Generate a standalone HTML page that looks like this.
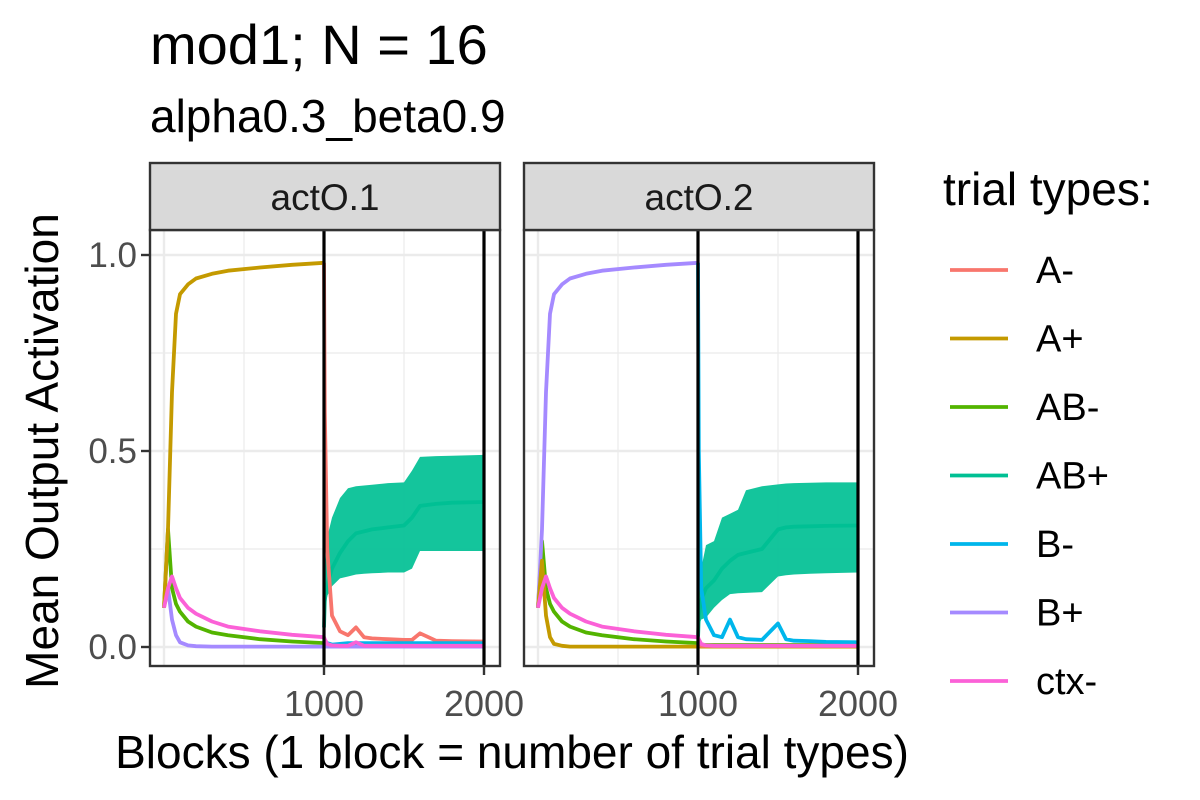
<!DOCTYPE html>
<html><head><meta charset="utf-8"><style>
html,body{margin:0;padding:0;background:#fff;}
svg{display:block;font-family:"Liberation Sans",Arial,sans-serif;}
</style></head><body>
<svg id="chart" width="1200" height="800" viewBox="0 0 1200 800">
<text x="150" y="64" font-size="56" fill="#000">mod1; N = 16</text>
<text x="150" y="132" font-size="46" fill="#000">alpha0.3_beta0.9</text>
<text transform="translate(58,451) rotate(-90)" text-anchor="middle" font-size="46" fill="#000">Mean Output Activation</text>
<text x="512" y="768" text-anchor="middle" font-size="46" fill="#000">Blocks (1 block = number of trial types)</text>
<text x="943" y="205" font-size="46" fill="#000">trial types:</text>
<g id="panels"></g>
<g id="legend"></g>
</svg>
<script>
const NS="http://www.w3.org/2000/svg";
const blocks=[0,25,50,75,100,150,200,300,400,600,800,1000,1005,1020,1050,1100,1150,1200,1250,1300,1400,1500,1550,1600,1700,1800,2000];
const seriesNames=["A-","A+","AB-","AB+","B-","B+","ctx-"];
const seriesColors=["#F8766D","#C49A00","#53B400","#00C094","#00B6EB","#A58AFF","#FB61D7"];
const panelNames=["actO.1","actO.2"];
const yTicks=[0,0.5,1.0];
const yTickLabels=["0.0","0.5","1.0"];
const xTicks=[1000,2000];
const xTickLabels=["1000","2000"];
const phaseLines=[1000,2000];
const N=null;
// panel actO.1
const p1_Aminus=[N,N,N,N,N,N,N,N,N,N,N,0.98,0.6,0.25,0.08,0.04,0.03,0.05,0.025,0.022,0.02,0.018,0.018,0.035,0.016,0.015,0.014];
const p1_Aplus=[0.1,0.3,0.65,0.85,0.9,0.925,0.94,0.952,0.96,0.968,0.975,0.98,N,N,N,N,N,N,N,N,N,N,N,N,N,N,N];
const p1_ABminus=[0.1,0.3,0.15,0.11,0.09,0.065,0.052,0.037,0.03,0.02,0.014,0.01,0.008,0.006,0.005,0.005,0.005,0.005,0.005,0.005,0.005,0.005,0.005,0.005,0.005,0.005,0.005];
const p1_ABplus=[N,N,N,N,N,N,N,N,N,N,N,0.05,0.12,0.16,0.2,0.24,0.27,0.29,0.295,0.3,0.305,0.31,0.33,0.36,0.365,0.368,0.37];
const p1_ABplusLo=[N,N,N,N,N,N,N,N,N,N,N,0.04,0.08,0.13,0.155,0.175,0.18,0.185,0.187,0.188,0.19,0.19,0.2,0.245,0.245,0.245,0.245];
const p1_ABplusHi=[N,N,N,N,N,N,N,N,N,N,N,0.1,0.2,0.28,0.33,0.38,0.405,0.41,0.412,0.414,0.418,0.42,0.45,0.485,0.487,0.488,0.49];
const p1_Bminus=[N,N,N,N,N,N,N,N,N,N,N,0.01,0.015,0.01,0.006,0.008,0.01,0.01,0.01,0.01,0.01,0.01,0.01,0.01,0.01,0.01,0.01];
const p1_Bplus=[0.1,0.15,0.07,0.03,0.012,0.004,0.002,0.001,0.001,0.001,0.001,0.001,0.001,0.001,0.001,0.001,0.001,0.001,0.001,0.001,0.001,0.001,0.001,0.001,0.001,0.001,0.001];
const p1_ctx=[0.1,0.15,0.18,0.15,0.125,0.1,0.085,0.065,0.052,0.04,0.031,0.025,0.02,0.008,0.004,0.003,0.003,0.012,0.003,0.003,0.003,0.003,0.003,0.003,0.003,0.003,0.003];
// panel actO.2
const p2_Aminus=[N,N,N,N,N,N,N,N,N,N,N,0.005,0.004,0.003,0.003,0.003,0.003,0.003,0.003,0.003,0.003,0.003,0.003,0.003,0.003,0.003,0.003];
const p2_Aplus=[0.1,0.22,0.08,0.025,0.008,0.003,0.001,0.001,0.001,0.001,0.001,0.001,0.001,0.001,0.001,0.001,0.001,0.001,0.001,0.001,0.001,0.001,0.001,0.001,0.001,0.001,0.001];
const p2_ABminus=[0.1,0.27,0.15,0.11,0.09,0.065,0.052,0.037,0.03,0.02,0.014,0.01,0.008,0.006,0.005,0.005,0.005,0.005,0.005,0.005,0.005,0.005,0.005,0.005,0.005,0.005,0.005];
const p2_ABplus=[N,N,N,N,N,N,N,N,N,N,N,0.02,0.08,0.12,0.15,0.17,0.2,0.22,0.235,0.24,0.25,0.3,0.305,0.307,0.308,0.309,0.31];
const p2_ABplusLo=[N,N,N,N,N,N,N,N,N,N,N,0.01,0.05,0.07,0.075,0.1,0.12,0.135,0.137,0.138,0.14,0.18,0.183,0.185,0.187,0.188,0.19];
const p2_ABplusHi=[N,N,N,N,N,N,N,N,N,N,N,0.05,0.15,0.2,0.26,0.27,0.33,0.34,0.35,0.4,0.41,0.415,0.417,0.418,0.419,0.42,0.42];
const p2_Bminus=[N,N,N,N,N,N,N,N,N,N,N,0.98,0.5,0.15,0.07,0.03,0.025,0.07,0.025,0.02,0.018,0.06,0.02,0.016,0.015,0.013,0.012];
const p2_Bplus=[0.1,0.3,0.65,0.85,0.9,0.925,0.94,0.952,0.96,0.968,0.975,0.98,N,N,N,N,N,N,N,N,N,N,N,N,N,N,N];
const p2_ctx=[0.1,0.15,0.18,0.15,0.125,0.1,0.085,0.065,0.052,0.04,0.031,0.025,0.02,0.008,0.004,0.003,0.003,0.003,0.003,0.003,0.003,0.003,0.003,0.003,0.003,0.003,0.003];

const panelSeries=[
 [p1_Aminus,p1_Aplus,p1_ABminus,p1_ABplus,p1_Bminus,p1_Bplus,p1_ctx],
 [p2_Aminus,p2_Aplus,p2_ABminus,p2_ABplus,p2_Bminus,p2_Bplus,p2_ctx]];
const panelRibbons=[[p1_ABplusLo,p1_ABplusHi],[p2_ABplusLo,p2_ABplusHi]];

const panelLeft=[150,524], panelW=350, stripTop=163, panelTop=230, panelBot=666;
const xMin=-87.5, xMax=2100;
function yScale(v){return 647-(v*392);}
function mk(tag,attrs,parent){const e=document.createElementNS(NS,tag);for(const k in attrs)e.setAttribute(k,attrs[k]);parent.appendChild(e);return e;}
const root=document.getElementById('panels');
panelNames.forEach((pn,pi)=>{
  const L=panelLeft[pi];
  const xs=v=>L+(v-xMin)/(xMax-xMin)*panelW;
  const g=mk('g',{},root);
  
  
  mk('rect',{x:L,y:panelTop,width:panelW,height:panelBot-panelTop,fill:'#fff'},g);
  [0.25,0.75].forEach(v=>mk('line',{x1:L,x2:L+panelW,y1:yScale(v),y2:yScale(v),stroke:'#ebebeb','stroke-width':1.2},g));
  [500,1500].forEach(v=>mk('line',{x1:xs(v),x2:xs(v),y1:panelTop,y2:panelBot,stroke:'#ebebeb','stroke-width':1.2},g));
  yTicks.forEach(v=>mk('line',{x1:L,x2:L+panelW,y1:yScale(v),y2:yScale(v),stroke:'#ebebeb','stroke-width':2.4},g));
  [0,1000,2000].forEach(v=>mk('line',{x1:xs(v),x2:xs(v),y1:panelTop,y2:panelBot,stroke:'#ebebeb','stroke-width':2.4},g));
  const [lo,hi]=panelRibbons[pi];
  let up=[],dn=[];
  blocks.forEach((b,i)=>{if(lo[i]!==null){up.push(xs(b)+','+yScale(hi[i]));dn.unshift(xs(b)+','+yScale(lo[i]));}});
  const rib=mk('polygon',{points:up.concat(dn).join(' '),fill:'#00C094','fill-opacity':0.92},g);
  
  
  const order=[3,2,5,1,0,4,6];
  order.forEach(si=>{
    const d=panelSeries[pi][si];let pts=[];
    blocks.forEach((b,i)=>{if(d[i]!==null)pts.push(xs(b).toFixed(1)+','+yScale(d[i]).toFixed(1));});
    const pl=mk('polyline',{points:pts.join(' '),fill:'none',stroke:seriesColors[si],'stroke-width':3.8,'stroke-linejoin':'round'},g);
    
    
  });
  phaseLines.forEach(v=>{
    const vl=mk('line',{x1:xs(v),x2:xs(v),y1:panelTop,y2:panelBot,stroke:'#000','stroke-width':3.2},g);
    
    
  });
  mk('rect',{x:L,y:panelTop,width:panelW,height:panelBot-panelTop,fill:'none',stroke:'#333','stroke-width':2.4},g);
  const st=mk('rect',{x:L,y:stripTop,width:panelW,height:panelTop-stripTop,fill:'#d9d9d9',stroke:'#333','stroke-width':2.4},g);
  
  
  const stt=mk('text',{x:L+panelW/2,y:210,'text-anchor':'middle','font-size':37,fill:'#1a1a1a'},g);
  stt.textContent=pn;
  
  
  xTicks.forEach((v,i)=>{
    mk('line',{x1:xs(v),x2:xs(v),y1:panelBot,y2:panelBot+9,stroke:'#333','stroke-width':2.4},g);
    const t=mk('text',{x:xs(v),y:716,'text-anchor':'middle','font-size':36,fill:'#4d4d4d'},g);
    t.textContent=xTickLabels[i];
    
    
  });
  if(pi===0){
    yTicks.forEach((v,i)=>{
      mk('line',{x1:L-9,x2:L,y1:yScale(v),y2:yScale(v),stroke:'#333','stroke-width':2.4},g);
      const t=mk('text',{x:L-13,y:yScale(v)+12,'text-anchor':'end','font-size':35,fill:'#4d4d4d'},g);
      t.textContent=yTickLabels[i];
      
      
    });
  }
});
const lg=document.getElementById('legend');
seriesNames.forEach((n,i)=>{
  const y=270+i*68.5;
  const g=mk('g',{},lg);
  
  
  mk('line',{x1:950,x2:1008,y1:y,y2:y,stroke:seriesColors[i],'stroke-width':3.8},g);
  const t=mk('text',{x:1036,y:y+13,'font-size':38,fill:'#000'},g);
  t.textContent=n;
});
</script>
</body></html>
